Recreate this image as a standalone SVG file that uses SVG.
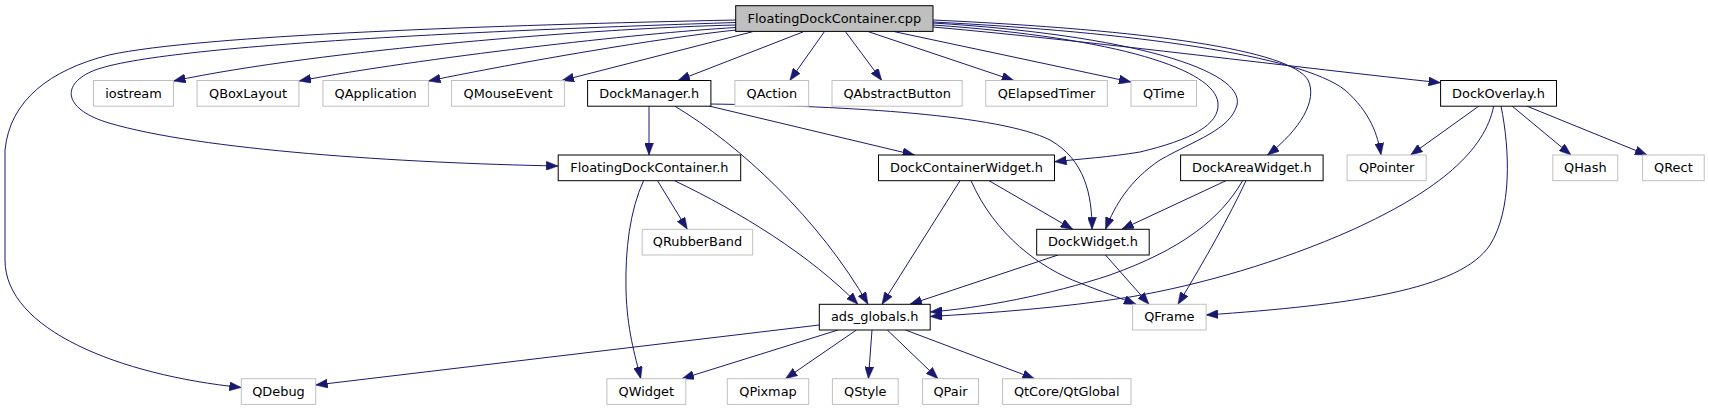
<svg xmlns="http://www.w3.org/2000/svg" width="1709" height="411" viewBox="0 0 1709 411">
<style>
rect{fill:#fff;stroke-width:1}
.d rect{stroke:#000}
.x rect{stroke:#bfbfbf}
.r rect{fill:#bfbfbf;stroke:#000}
text{font-family:"DejaVu Sans","Liberation Sans",sans-serif;font-size:12.9px;fill:#000;text-anchor:middle}
#edges path{fill:none;stroke:#191970;stroke-width:1;marker-end:url(#a)}
</style>
<defs>
<marker id="a" markerUnits="userSpaceOnUse" viewBox="0 0 12 9" refX="12" refY="4.5" markerWidth="12" markerHeight="9" orient="auto">
<path d="M0,0 L12,4.5 L0,9 z" fill="#191970" stroke="#191970" stroke-width="0.5"/>
</marker>
</defs>
<rect x="0" y="0" width="1709" height="411" style="fill:#fff;stroke:none"/>
<g id="edges">
<path d="M736,25 C600,28 320,50 173.5,81"/>
<path d="M736,27.5 C640,33 420,58 299,81"/>
<path d="M736,30 C660,38 520,62 428.4,81"/>
<path d="M752.7,31.7 L562,80.5"/>
<path d="M803.6,31.7 L678,80.5"/>
<path d="M824.4,31.7 L789.8,80.5"/>
<path d="M845.5,31.7 L881.8,80.5"/>
<path d="M868.4,31.7 L1013.8,80.5"/>
<path d="M894.5,31.7 L1131,82"/>
<path d="M933,27 C1100,42 1300,68 1440.6,82.7"/>
<path d="M933,22 C1130,32 1300,55 1345,90 C1370,112 1378,135 1381,155"/>
<path d="M933,20 C1150,30 1290,50 1308,80 C1318,100 1300,130 1267.4,155"/>
<path d="M933,25 C1120,38 1215,70 1218,103 C1220,125 1190,140 1140,152 C1110,157 1080,159 1054.5,161.7"/>
<path d="M933,23 C1130,35 1245,70 1237,105 C1230,130 1195,140 1160,160 C1130,180 1115,205 1105.5,229.3"/>
<path d="M736,22.5 C500,30 150,45 91,71.7 C60,86 65,110 109,123 C200,150 400,163 558.2,166"/>
<path d="M736,20 C500,25 200,35 109,55 C50,70 10,100 5,150 L5,260 C5,330 120,375 241.3,387.5"/>
<path d="M649,106 L649,155"/>
<path d="M709,106 L914.5,155"/>
<path d="M711,104 C850,106 1000,115 1050,140 C1085,160 1092,195 1092,229.3"/>
<path d="M674.5,106 C740,145 820,220 868,304.3"/>
<path d="M657.5,180.7 L687.3,229.3"/>
<path d="M643.6,180.7 C630,210 625,250 626,290 C627,330 635,355 640.7,378.7"/>
<path d="M674.5,180.7 C740,212 810,255 858,304.3"/>
<path d="M960,180.7 L882,304.3"/>
<path d="M989,180.7 L1072.7,229.3"/>
<path d="M971,180.7 C995,235 1040,268 1080,283 C1100,291 1120,298 1136,304.3"/>
<path d="M1226,180.7 L1121.8,229.3"/>
<path d="M1242.6,180.7 C1220,220 1180,250 1110,275 C1050,295 980,308 930.2,312"/>
<path d="M1246,180.7 C1230,215 1205,260 1178,304.3"/>
<path d="M1058,255 L910,304.3"/>
<path d="M1105.5,255 L1149,304.3"/>
<path d="M1479,106 L1410.6,155"/>
<path d="M1493.7,106 C1485,150 1440,190 1352,230 C1280,262 1200,285 1130,297 C1060,308 990,313 930.2,316.5"/>
<path d="M1501,106 C1510,150 1512,210 1490,245 C1460,290 1350,305 1206.1,315"/>
<path d="M1512,106 L1571,155"/>
<path d="M1526.5,106 L1647,155"/>
<path d="M819.3,325 L315.7,385"/>
<path d="M838,330 L682,378.7"/>
<path d="M856.4,330 L785.5,378.7"/>
<path d="M872,330 L868.4,378.7"/>
<path d="M887.3,330 L938,378.7"/>
<path d="M905.5,330 L1034.5,378.7"/>
</g>
<g id="n_cpp" class="r"><rect x="735.7" y="5.7" width="197.3" height="25.7"/><text x="834.35" y="22.7">FloatingDockContainer.cpp</text></g>
<g id="n_iostream" class="x"><rect x="93.5" y="80.5" width="80" height="25.7"/><text x="133.5" y="97.5">iostream</text></g>
<g id="n_qboxlayout" class="x"><rect x="197.1" y="80.5" width="101.8" height="25.7"/><text x="248" y="97.5">QBoxLayout</text></g>
<g id="n_qapplication" class="x"><rect x="322.9" y="80.5" width="105.5" height="25.7"/><text x="375.65" y="97.5">QApplication</text></g>
<g id="n_qmouseevent" class="x"><rect x="451.6" y="80.5" width="112.8" height="25.7"/><text x="508" y="97.5">QMouseEvent</text></g>
<g id="n_dockmanager" class="d"><rect x="587.6" y="80.5" width="123.3" height="25.7"/><text x="649.25" y="97.5">DockManager.h</text></g>
<g id="n_qaction" class="x"><rect x="734.9" y="80.5" width="73.8" height="25.7"/><text x="771.8" y="97.5">QAction</text></g>
<g id="n_qabstractbutton" class="x"><rect x="832" y="80.5" width="130.2" height="25.7"/><text x="897.1" y="97.5">QAbstractButton</text></g>
<g id="n_qelapsedtimer" class="x"><rect x="985.8" y="80.5" width="121.5" height="25.7"/><text x="1046.55" y="97.5">QElapsedTimer</text></g>
<g id="n_qtime" class="x"><rect x="1131" y="80.5" width="65.5" height="25.7"/><text x="1163.75" y="97.5">QTime</text></g>
<g id="n_dockoverlay" class="d"><rect x="1440.6" y="80.5" width="115.9" height="25.7"/><text x="1498.55" y="97.5">DockOverlay.h</text></g>
<g id="n_fdch" class="d"><rect x="558.2" y="155" width="182.5" height="25.7"/><text x="649.45" y="172">FloatingDockContainer.h</text></g>
<g id="n_dcw" class="d"><rect x="878.5" y="155" width="176" height="25.7"/><text x="966.5" y="172">DockContainerWidget.h</text></g>
<g id="n_daw" class="d"><rect x="1180.6" y="155" width="142.5" height="25.7"/><text x="1251.85" y="172">DockAreaWidget.h</text></g>
<g id="n_qpointer" class="x"><rect x="1347.1" y="155" width="79.1" height="25.7"/><text x="1386.65" y="172">QPointer</text></g>
<g id="n_qhash" class="x"><rect x="1552.8" y="155" width="65" height="25.7"/><text x="1585.3" y="172">QHash</text></g>
<g id="n_qrect" class="x"><rect x="1642.6" y="155" width="61.6" height="25.7"/><text x="1673.4" y="172">QRect</text></g>
<g id="n_qrubberband" class="x"><rect x="642.2" y="229.3" width="110.5" height="25.7"/><text x="697.45" y="246.3">QRubberBand</text></g>
<g id="n_dockwidget" class="d"><rect x="1036.7" y="229.3" width="112.5" height="25.7"/><text x="1092.95" y="246.3">DockWidget.h</text></g>
<g id="n_ads" class="d"><rect x="819.3" y="304.3" width="110.9" height="25.7"/><text x="874.75" y="321.3">ads_globals.h</text></g>
<g id="n_qframe" class="x"><rect x="1132.6" y="304.3" width="73.5" height="25.7"/><text x="1169.35" y="321.3">QFrame</text></g>
<g id="n_qdebug" class="x"><rect x="241.3" y="378.7" width="74.4" height="25.7"/><text x="278.5" y="395.7">QDebug</text></g>
<g id="n_qwidget" class="x"><rect x="606.9" y="378.7" width="78.9" height="25.7"/><text x="646.35" y="395.7">QWidget</text></g>
<g id="n_qpixmap" class="x"><rect x="727.3" y="378.7" width="81.4" height="25.7"/><text x="768" y="395.7">QPixmap</text></g>
<g id="n_qstyle" class="x"><rect x="832.4" y="378.7" width="65.8" height="25.7"/><text x="865.3" y="395.7">QStyle</text></g>
<g id="n_qpair" class="x"><rect x="922.5" y="378.7" width="56" height="25.7"/><text x="950.5" y="395.7">QPair</text></g>
<g id="n_qtglobal" class="x"><rect x="1002.5" y="378.7" width="128.5" height="25.7"/><text x="1066.75" y="395.7">QtCore/QtGlobal</text></g>
</svg>
